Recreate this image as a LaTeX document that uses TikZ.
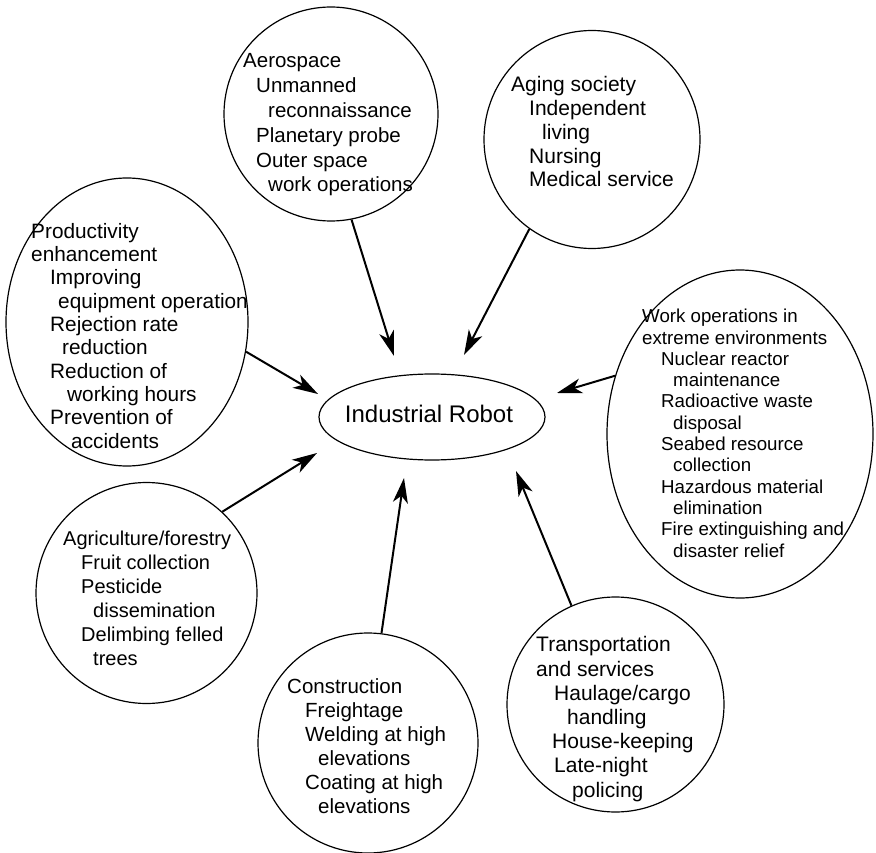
\documentclass[tikz,border=0pt]{standalone}
\usepackage{fontspec}
\setmainfont{Liberation Sans}
\usetikzlibrary{shapes.geometric,arrows.meta}
\begin{document}
\begin{tikzpicture}[x=1pt,y=-1pt,
  bubble/.style={draw, line width=1.2pt, ellipse, inner sep=0pt},
  itemtext/.style={anchor=base west, align=left, inner sep=0pt},
  feed/.style={line width=2pt, -{Stealth[length=25pt,width=15pt,inset=7pt]}}
]
\useasboundingbox (0,0) rectangle (876,853);

% application areas around the centre
\node[bubble, minimum width=214pt, minimum height=214pt] (aero) at (331,114) {};
\node[bubble, minimum width=216pt, minimum height=218pt] (aging) at (592,139.5) {};
\node[bubble, minimum width=242pt, minimum height=288pt] (prod) at (127,322) {};
\node[bubble, minimum width=266pt, minimum height=328pt] (work) at (740,434) {};
\node[bubble, minimum width=221pt, minimum height=221pt] (agri) at (146.5,593) {};
\node[bubble, minimum width=220pt, minimum height=220pt] (constr) at (368,743) {};
\node[bubble, minimum width=217pt, minimum height=215pt] (trans) at (615.5,704.5) {};

% centre
\node[bubble, minimum width=226pt, minimum height=86pt] (robot) at (432,417) {};
\node[anchor=base, inner sep=0pt, font=\fontsize{24}{28}\selectfont] (robotT) at (429,422) {Industrial Robot};

% texts (each placed by the baseline of its last line)
\node[itemtext, font=\fontsize{20.5}{24.8}\selectfont] (aeroT) at (243,192) {Aerospace\\
\hspace*{13pt}Unmanned\\
\hspace*{25pt}reconnaissance\\
\hspace*{13pt}Planetary probe\\
\hspace*{13pt}Outer space\\
\hspace*{25pt}work operations};

\node[itemtext, font=\fontsize{21}{23.75}\selectfont] (agingT) at (511,187) {Aging society\\
\hspace*{18pt}Independent\\
\hspace*{31pt}living\\
\hspace*{18pt}Nursing\\
\hspace*{18pt}Medical service};

\node[itemtext, font=\fontsize{20.8}{23.3}\selectfont] (prodT) at (31,448) {Productivity\\
enhancement\\
\hspace*{19pt}Improving\\
\hspace*{27pt}equipment operation\\
\hspace*{19pt}Rejection rate\\
\hspace*{31pt}reduction\\
\hspace*{19pt}Reduction of\\
\hspace*{36pt}working hours\\
\hspace*{19pt}Prevention of\\
\hspace*{40pt}accidents};

\node[itemtext, font=\fontsize{18.7}{21.3}\selectfont] (workT) at (642,557) {Work operations in\\
extreme environments\\
\hspace*{19pt}Nuclear reactor\\
\hspace*{31pt}maintenance\\
\hspace*{19pt}Radioactive waste\\
\hspace*{31pt}disposal\\
\hspace*{19pt}Seabed resource\\
\hspace*{31pt}collection\\
\hspace*{19pt}Hazardous material\\
\hspace*{31pt}elimination\\
\hspace*{19pt}Fire extinguishing and\\
\hspace*{31pt}disaster relief};

\node[itemtext, font=\fontsize{20}{24}\selectfont] (agriT) at (63,665) {Agriculture/forestry\\
\hspace*{18pt}Fruit collection\\
\hspace*{18pt}Pesticide\\
\hspace*{30pt}dissemination\\
\hspace*{18pt}Delimbing felled\\
\hspace*{30pt}trees};

\node[itemtext, font=\fontsize{20.5}{24}\selectfont] (constrT) at (287,813) {Construction\\
\hspace*{18pt}Freightage\\
\hspace*{18pt}Welding at high\\
\hspace*{31pt}elevations\\
\hspace*{18pt}Coating at high\\
\hspace*{31pt}elevations};

\node[itemtext, font=\fontsize{21}{24.2}\selectfont] (transT) at (536,797) {Transportation\\
and services\\
\hspace*{18pt}Haulage/cargo\\
\hspace*{31pt}handling\\
\hspace*{16pt}House-keeping\\
\hspace*{18pt}Late-night\\
\hspace*{36pt}policing};

% arrow tips, just short of the centre ellipse
\coordinate (tipAero) at (394,356);
\coordinate (tipAging) at (464,355);
\coordinate (tipProd) at (318,394);
\coordinate (tipWork) at (557,393);
\coordinate (tipAgri) at (317,453);
\coordinate (tipConstr) at (404,478);
\coordinate (tipTrans) at (516,471);

\draw[feed] (aero.-79) -- (tipAero);
\draw[feed] (aging.-125) -- (tipAging);
\draw[feed] (prod.-14) -- (tipProd);
\draw[feed] (work.155) -- (tipWork);
\draw[feed] (agri.47) -- (tipAgri);
\draw[feed] (constr.83) -- (tipConstr);
\draw[feed] (trans.114) -- (tipTrans);
\end{tikzpicture}
\end{document}
